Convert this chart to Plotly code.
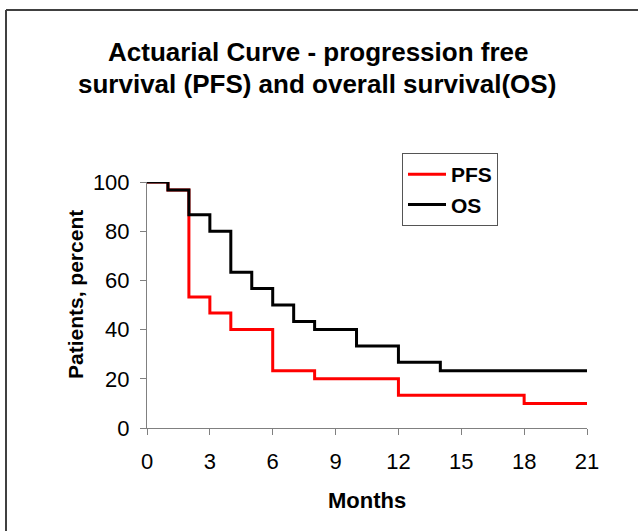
import plotly.graph_objects as go

months_pfs = [0, 1, 2, 3, 4, 6, 8, 12, 18, 21]
pfs = [100, 96.7, 53.3, 46.7, 40, 23.3, 20, 13.3, 10, 10]
months_os = [0, 1, 2, 3, 4, 5, 6, 7, 8, 10, 12, 14, 21]
os_vals = [100, 96.7, 86.7, 80, 63.3, 56.7, 50, 43.3, 40, 33.3, 26.7, 23.3, 23.3]
x_ticks = [0, 3, 6, 9, 12, 15, 18, 21]
y_ticks = [0, 20, 40, 60, 80, 100]

W, H = 638, 531
L, R, T, B = 147, 587, 182, 428  # plot area in pixels


def px(x):
    return (x - L) / (R - L)


def py(y):
    return (B - y) / (B - T)


FONT = "Liberation Sans, Arial, sans-serif"

fig = go.Figure()
fig.add_trace(go.Scatter(x=months_pfs, y=pfs, mode="lines", name="PFS",
                         line=dict(color="#ff0000", width=3, shape="hv")))
fig.add_trace(go.Scatter(x=months_os, y=os_vals, mode="lines", name="OS",
                         line=dict(color="#000000", width=3, shape="hv")))

fig.update_traces(cliponaxis=False)

fig.update_layout(
    width=W, height=H,
    margin=dict(l=L, r=W - R, t=T, b=H - B, pad=0),
    paper_bgcolor="white", plot_bgcolor="white",
    font=dict(family=FONT, color="black"),
    showlegend=True,
    legend=dict(x=px(402), y=py(153), xanchor="left", yanchor="top",
                bgcolor="white", bordercolor="#555555", borderwidth=1,
                font=dict(family=FONT, size=21, color="black", weight="bold"),
                itemwidth=38, tracegroupgap=0),
    xaxis=dict(range=[0, 21], tickvals=x_ticks, ticktext=[str(v) for v in x_ticks],
               showgrid=False, zeroline=False, showline=True, linecolor="#808080", linewidth=1,
               ticks="outside", ticklen=6, tickcolor="#808080", tickwidth=1,
               tickfont=dict(size=22, family=FONT), ticklabelstandoff=8),
    yaxis=dict(range=[0, 100], tickvals=y_ticks, ticktext=[str(v) for v in y_ticks],
               showgrid=False, zeroline=False, showline=True, linecolor="#808080", linewidth=1,
               ticks="outside", ticklen=6, tickcolor="#808080", tickwidth=1,
               tickfont=dict(size=22, family=FONT), ticklabelstandoff=6),
    annotations=[
        dict(text="<b>Actuarial Curve - progression free</b>",
             xref="paper", yref="paper", x=px(318), y=py(52), xanchor="center", yanchor="middle",
             showarrow=False, font=dict(size=26, family=FONT, color="black")),
        dict(text="<b>survival (PFS) and overall survival(OS)</b>",
             xref="paper", yref="paper", x=px(317), y=py(84), xanchor="center", yanchor="middle",
             showarrow=False, font=dict(size=26, family=FONT, color="black")),
        dict(text="<b>Months</b>",
             xref="paper", yref="paper", x=px(367), y=py(500), xanchor="center", yanchor="middle",
             showarrow=False, font=dict(size=22, family=FONT, color="black")),
        dict(text="<b>Patients, percent</b>", textangle=-90,
             xref="paper", yref="paper", x=px(75), y=py(295), xanchor="center", yanchor="middle",
             showarrow=False, font=dict(size=21, family=FONT, color="black")),
    ],
    shapes=[
        dict(type="line", xref="paper", yref="paper", x0=px(6), y0=py(10), x1=px(700), y1=py(10),
             line=dict(color="#404040", width=2)),
        dict(type="line", xref="paper", yref="paper", x0=px(6), y0=py(10), x1=px(6), y1=py(600),
             line=dict(color="#404040", width=2)),
    ],
)

# remove the default 8px page margin so the figure fills the window exactly
fig.write_html("out.html", config={"displayModeBar": False},
               post_script="document.body.style.margin='0';")
